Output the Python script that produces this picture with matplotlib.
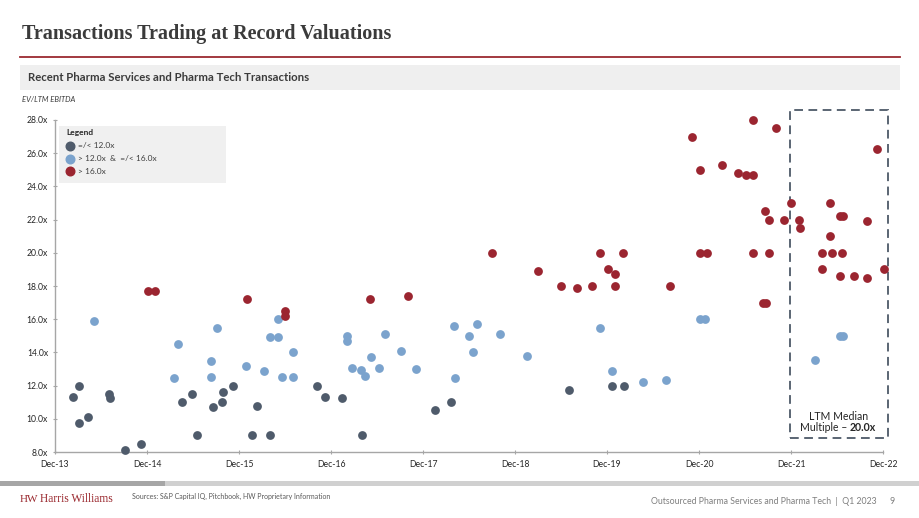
import numpy as np
import matplotlib
matplotlib.use("Agg")
import matplotlib.pyplot as plt
from matplotlib.patches import Rectangle

plt.rcParams['font.family'] = ['Lato', 'DejaVu Sans']

# years since Dec-13
tick_labels = ['Dec-13', 'Dec-14', 'Dec-15', 'Dec-16', 'Dec-17',
               'Dec-18', 'Dec-19', 'Dec-20', 'Dec-21', 'Dec-22']
y_ticks = [8, 10, 12, 14, 16, 18, 20, 22, 24, 26, 28]

low_x = [0.20, 0.26, 0.26, 0.36, 0.59, 0.60, 0.76, 0.94, 1.38, 1.49, 1.54, 1.72, 1.81, 1.83,
         1.94, 2.14, 2.20, 2.34, 2.85, 2.93, 3.12, 3.34, 4.13, 4.30, 5.59, 6.05, 6.18]
low_y = [11.3, 12.0, 9.75, 10.1, 11.5, 11.27, 8.1, 8.46, 11.03, 11.5, 9.04, 10.73, 11.03, 11.6,
         12.0, 9.04, 10.8, 9.04, 12.0, 11.33, 11.23, 9.04, 10.53, 11.03, 11.73, 12.0, 12.0]

mid_x = [0.42, 1.29, 1.34, 1.70, 1.70, 1.76, 2.08, 2.27, 2.34, 2.42, 2.42, 2.47, 2.59, 2.59,
         3.17, 3.17, 3.23, 3.33, 3.37, 3.44, 3.52, 3.59, 3.76, 3.92, 4.34, 4.35, 4.50, 4.54,
         4.59, 4.84, 5.13, 5.92, 6.05, 6.39, 6.64, 7.01, 7.07, 8.26, 8.53, 8.57]
mid_y = [15.9, 12.44, 14.5, 13.5, 12.5, 15.5, 13.2, 12.9, 14.9, 14.9, 16.0, 12.5, 14.0, 12.5,
         15.0, 14.7, 13.04, 12.96, 12.6, 13.7, 13.04, 15.1, 14.1, 13.0, 15.6, 12.44, 15.0, 14.0,
         15.7, 15.1, 13.8, 15.5, 12.9, 12.24, 12.34, 16.0, 16.0, 13.52, 15.0, 15.0]

high_x = [1.01, 1.09, 2.09, 2.50, 2.50, 3.42, 3.84, 4.75, 5.25, 5.50, 5.67, 5.84, 5.92, 6.01,
          6.09, 6.09, 6.17, 6.68, 6.92, 7.01, 7.01, 7.09, 7.25, 7.42, 7.51, 7.59, 7.59, 7.59,
          7.70, 7.73, 7.72, 7.76, 7.76, 7.84, 7.92, 8.00, 8.09, 8.10, 8.34, 8.34, 8.42, 8.42,
          8.45, 8.53, 8.56, 8.53, 8.55, 8.69, 8.83, 8.83, 8.94, 9.01]
high_y = [17.7, 17.7, 17.2, 16.5, 16.2, 17.2, 17.4, 20.0, 18.9, 18.0, 17.9, 18.0, 20.0, 19.0,
          18.7, 18.0, 20.0, 18.0, 27.0, 25.0, 20.0, 20.0, 25.3, 24.8, 24.7, 24.7, 28.0, 20.0,
          17.0, 17.0, 22.5, 22.0, 20.0, 27.5, 22.0, 23.0, 22.0, 21.5, 20.0, 19.0, 23.0, 21.0,
          20.0, 22.2, 22.2, 18.6, 20.0, 18.6, 21.9, 18.5, 26.25, 19.0]

ltm_median = 20.0

c_low = '#4f5b6b'
c_mid = '#7ba3cd'
c_high = '#9b2530'
red_line = '#9b2a30'
grey_txt = '#595959'

fig = plt.figure(figsize=(9.2, 5.18), dpi=100)
W, H = 920, 518

def fx(px):
    return px / W

def fy(py):
    return 1 - py / H

# title and header band
fig.text(fx(22), fy(34), 'Transactions Trading at Record Valuations', family='Liberation Serif',
         fontweight='bold', fontsize=14.5, color='#3b3b3b', va='center')
fig.add_artist(plt.Line2D([fx(20), fx(900)], [fy(57), fy(57)], color=red_line, lw=1.3))
fig.add_artist(Rectangle((fx(20), fy(90)), fx(880), 25 / H, color='#efefef', lw=0))
fig.text(fx(28), fy(77.5), 'Recent Pharma Services and Pharma Tech Transactions',
         fontweight='bold', fontsize=8.2, color='#3b3b3b', va='center')
fig.text(fx(22), fy(99), 'EV/LTM EBITDA', fontstyle='italic', fontsize=5.5, color='#3b3b3b', va='center')

ax = fig.add_axes([fx(55), fy(452), fx(883 - 55), (452 - 120) / H])
ax.scatter(low_x, low_y, s=40, color=c_low, zorder=3, clip_on=False, linewidths=0)
ax.scatter(mid_x, mid_y, s=40, color=c_mid, zorder=3, clip_on=False, linewidths=0)
ax.scatter(high_x, high_y, s=40, color=c_high, zorder=3, clip_on=False, linewidths=0)

ax.set_xlim(0, 9)
ax.set_ylim(8, 28)
ax.set_xticks(range(len(tick_labels)))
ax.set_xticklabels(tick_labels)
ax.set_yticks(y_ticks)
ax.set_yticklabels(['{:.1f}x'.format(v) for v in y_ticks])
for s in ['top', 'right']:
    ax.spines[s].set_visible(False)
for s in ['left', 'bottom']:
    ax.spines[s].set_color('#a6a6a6')
    ax.spines[s].set_linewidth(1.0)
ax.tick_params(axis='both', colors='#a6a6a6', labelcolor='#262626', labelsize=6.2, length=3,
               direction='inout', width=0.8)
ax.tick_params(axis='x', pad=4)
ax.tick_params(axis='y', pad=3.5)

# LTM box
box = Rectangle((7.99, 8.84), 1.06, 19.76, fill=False, ls=(0, (4.5, 2.8)), lw=1.4,
                edgecolor='#5a6573', clip_on=False, zorder=2)
ax.add_patch(box)
ax.text(8.52, 10.13, 'LTM Median', ha='center', va='center', fontsize=7.6, color='#262626')
t1 = ax.text(8.095, 9.46, 'Multiple \u2013', ha='left', va='center', fontsize=7.6, color='#262626')
ax.annotate('{:.1f}x'.format(ltm_median), xy=(1, 0), xycoords=t1, xytext=(2, 0),
            textcoords='offset points', ha='left', va='bottom', fontsize=7.6,
            fontweight='bold', color='#262626')

# legend box
fig.add_artist(Rectangle((fx(59), fy(183)), fx(167), 57 / H, color='#f0f0f0', lw=0))
fig.text(fx(66), fy(133), 'Legend', fontweight='bold', fontsize=6, color='#262626', va='center')
for i, (c, lab) in enumerate([(c_low, '=/< 12.0x'), (c_mid, '> 12.0x  &  =/< 16.0x'),
                              (c_high, '> 16.0x')]):
    yy = 146 + i * 12.7
    fig.add_artist(plt.Line2D([fx(70.5)], [fy(yy)], marker='o', ms=6.2, color=c, lw=0))
    fig.text(fx(78), fy(yy), lab, fontsize=6, color='#404040', va='center')

# bottom bar and footer
fig.add_artist(Rectangle((0, fy(486)), fx(920), 5 / H, color='#d0d0d0', lw=0))
fig.add_artist(Rectangle((0, fy(486)), fx(165), 5 / H, color='#a6a6a6', lw=0))
fig.text(fx(20), fy(500), 'HW', family='Liberation Serif', fontsize=8, color=red_line, va='center')
fig.text(fx(40), fy(499), 'Harris Williams', family='Liberation Serif', fontsize=8.3,
         color=red_line, va='center')
fig.text(fx(132), fy(496), 'Sources: S&P Capital IQ, Pitchbook, HW Proprietary Information',
         fontsize=5.0, color=grey_txt, va='center')
fig.text(fx(877), fy(502), 'Outsourced Pharma Services and Pharma Tech  |  Q1 2023',
         ha='right', fontsize=6.3, color='#7f7f7f', va='center')
fig.text(fx(892), fy(502), '9', ha='center', fontsize=6.3, color='#7f7f7f', va='center')

fig.savefig('out.png', dpi=100)
